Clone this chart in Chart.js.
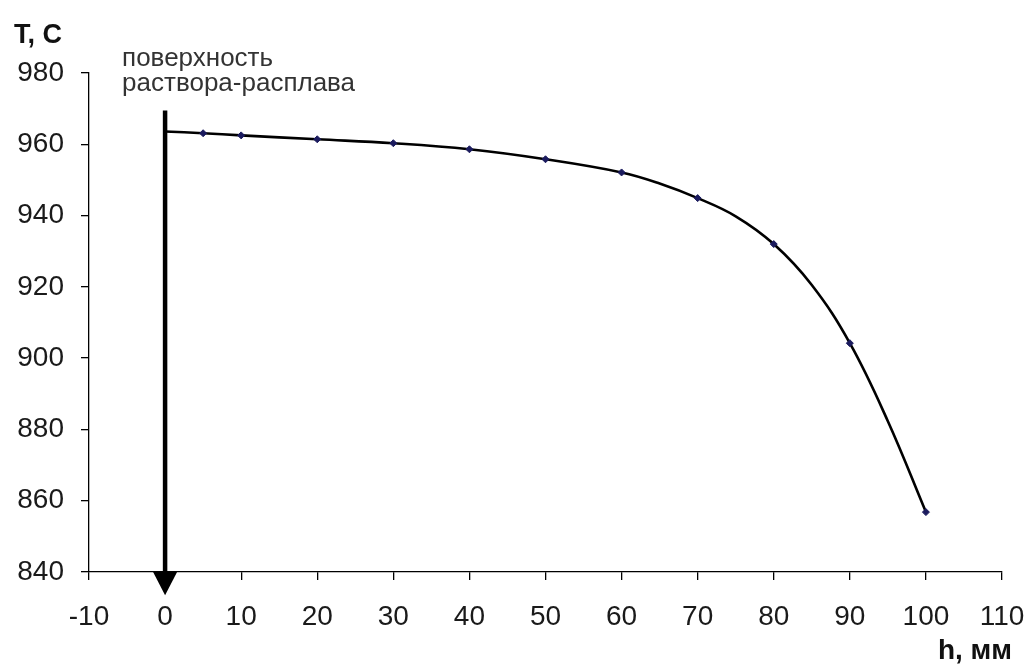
<!DOCTYPE html>
<html>
<head>
<meta charset="utf-8">
<script src="https://cdn.jsdelivr.net/npm/chart.js@4/dist/chart.umd.min.js"></script>
<style>
  html, body { margin: 0; padding: 0; background: #fff; }
  canvas { display: block; }
</style>
</head>
<body>
<canvas id="chart" width="1030" height="668"></canvas>
<script>
// Depth below the melt surface, mm, and measured temperature, °C
const depthMm = [5, 10, 20, 30, 40, 50, 60, 70, 80, 90, 100];
const tempC = [963.1, 962.5, 961.4, 960.3, 958.6, 955.8, 952.1, 944.9, 932.0, 904.2, 856.8];

// Smoothed trend curve, starting from the surface (h = 0)
const trendDepth = [0, 5, 10, 20, 30, 40, 50, 60, 65, 70, 75, 80, 85, 90, 95, 100];
const trendTemp = [963.6, 963.1, 962.5, 961.4, 960.3, 958.6, 955.8, 952.1, 949.0, 944.9, 939.8, 932.0, 920.5, 904.2, 882.3, 856.8];

// Axis ranges and tick steps
const xRange = [-10, 110];
const xStep = 10;
const yRange = [840, 980];
const yStep = 20;

// Texts
const yTitle = 'T, C';
const xTitle = 'h, мм';
const surfaceLabel = ['поверхность', 'раствора-расплава'];

// Surface marker arrow: at h = 0, from this temperature level down past the axis
const surfaceDepth = 0;
const arrowTopTemp = 969.5;
const arrowTipTemp = 833.5;

const FONT = '"Liberation Sans", Arial, sans-serif';

const toPoints = (xs, ys) => xs.map((x, i) => ({ x, y: ys[i] }));

const overlay = {
  id: 'overlay',
  afterDraw(chart) {
    const { ctx, scales: { x, y } } = chart;
    ctx.save();

    // arrow marking the melt surface
    const ax = x.getPixelForValue(surfaceDepth);
    const yTop = y.getPixelForValue(arrowTopTemp);
    const yBase = y.getPixelForValue(yRange[0]);
    const yTip = y.getPixelForValue(arrowTipTemp);
    ctx.strokeStyle = '#000';
    ctx.lineWidth = 4.5;
    ctx.beginPath();
    ctx.moveTo(ax, yTop);
    ctx.lineTo(ax, yBase);
    ctx.stroke();
    ctx.fillStyle = '#000';
    ctx.beginPath();
    ctx.moveTo(ax - 12, yBase);
    ctx.lineTo(ax + 12, yBase);
    ctx.lineTo(ax, yTip);
    ctx.closePath();
    ctx.fill();

    // surface label
    ctx.fillStyle = '#333';
    ctx.font = '26px ' + FONT;
    ctx.textAlign = 'left';
    ctx.textBaseline = 'alphabetic';
    ctx.fillText(surfaceLabel[0], ax - 43, 66);
    ctx.fillText(surfaceLabel[1], ax - 43, 91);

    // axis titles
    ctx.fillStyle = '#111';
    ctx.font = 'bold 27px ' + FONT;
    ctx.textAlign = 'left';
    ctx.fillText(yTitle, 14, 43);
    ctx.textAlign = 'right';
    ctx.font = 'bold 28px ' + FONT;
    ctx.fillText(xTitle, chart.width - 18, 659);

    ctx.restore();
  }
};

new Chart(document.getElementById('chart'), {
  type: 'scatter',
  data: {
    datasets: [
      {
        label: 'T',
        data: toPoints(depthMm, tempC),
        pointStyle: 'rectRot',
        pointRadius: 3.5,
        pointBackgroundColor: '#1b1b5e',
        pointBorderColor: '#1b1b5e',
        pointBorderWidth: 1,
        showLine: false,
        order: 0
      },
      {
        label: 'trend',
        data: toPoints(trendDepth, trendTemp),
        showLine: true,
        borderColor: '#000',
        borderWidth: 2.6,
        pointRadius: 0,
        tension: 0.4,
        order: 1
      }
    ]
  },
  options: {
    responsive: false,
    animation: false,
    layout: { padding: { left: 0, top: 73, right: 28, bottom: 0 } },
    plugins: { legend: { display: false }, tooltip: { enabled: false } },
    scales: {
      x: {
        type: 'linear',
        min: xRange[0],
        max: xRange[1],
        afterFit: (s) => { s.height = 96; s.paddingLeft = 0; s.paddingRight = 0; },
        ticks: {
          stepSize: xStep,
          color: '#1a1a1a',
          padding: 20,
          maxRotation: 0,
          font: { family: FONT, size: 28 }
        },
        grid: { drawOnChartArea: false, drawTicks: true, tickLength: 8, color: '#000', lineWidth: 1.3 },
        border: { display: true, color: '#000', width: 1.3 }
      },
      y: {
        type: 'linear',
        min: yRange[0],
        max: yRange[1],
        afterFit: (s) => { s.width = 89; s.paddingTop = 0; s.paddingBottom = 0; },
        ticks: {
          stepSize: yStep,
          color: '#1a1a1a',
          padding: 17,
          font: { family: FONT, size: 28 }
        },
        grid: { drawOnChartArea: false, drawTicks: true, tickLength: 8, color: '#000', lineWidth: 1.3 },
        border: { display: true, color: '#000', width: 1.3 }
      }
    }
  },
  plugins: [overlay]
});
</script>
</body>
</html>
